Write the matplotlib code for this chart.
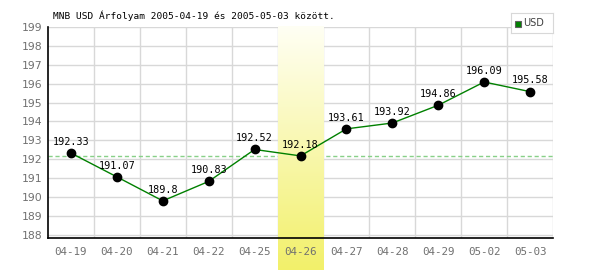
import matplotlib
matplotlib.use("Agg")
import matplotlib.pyplot as plt
import numpy as np
from matplotlib.colors import LinearSegmentedColormap
from matplotlib.patches import Rectangle

dates = ["04-19", "04-20", "04-21", "04-22", "04-25", "04-26", "04-27", "04-28", "04-29", "05-02", "05-03"]
values = [192.33, 191.07, 189.8, 190.83, 192.52, 192.18, 193.61, 193.92, 194.86, 196.09, 195.58]
value_labels = ["192.33", "191.07", "189.8", "190.83", "192.52", "192.18", "193.61", "193.92", "194.86", "196.09", "195.58"]
highlight_idx = 5
ref_value = 192.18
yticks = list(range(188, 200))
title = "MNB USD Árfolyam 2005-04-19 és 2005-05-03 között."
series_name = "USD"

plt.rcParams['font.family'] = ['DejaVu Sans Mono', 'DejaVu Sans']

fig = plt.figure(figsize=(6.0, 2.7), dpi=100)
ax = fig.add_axes([48/600, (270-238.3)/270, (553-48)/600, (238.3-27)/270])

ymin, ymax = 187.82, 199.0
x = np.arange(len(dates))
ax.set_xlim(-0.5, len(dates) - 0.5)
ax.set_ylim(ymin, ymax)

# grid
for k in range(len(dates)):
    ax.axvline(k + 0.5, color="#d8d8d8", lw=1, zorder=0)
for yv in yticks:
    ax.axhline(yv, color="#d8d8d8", lw=1, zorder=0)

# reference dashed line
ax.axhline(ref_value, color="#88d088", lw=1, ls=(0, (3, 2)), zorder=1)

# highlight gradient column (extends below axis)
cmap = LinearSegmentedColormap.from_list("hl", ["#fffff4", "#f2f06a"])
grad = np.linspace(0, 1, 256).reshape(-1, 1)
bottom_data = ymin - (ymax - ymin) * (270 - 238.3) / (238.3 - 27)
top_data = ymax + (ymax - ymin) * 1 / (238.3 - 27)
ax.imshow(grad, cmap=cmap, aspect="auto", origin="upper",
          extent=[highlight_idx - 0.5, highlight_idx + 0.5, bottom_data, top_data],
          zorder=1.5, clip_on=False)

ax.plot(x, values, color="#008000", lw=1, zorder=3)
ax.plot(x, values, 'o', color="black", ms=6, zorder=4)
for xi, v, lab in zip(x, values, value_labels):
    ax.annotate(lab, (xi, v), xytext=(0, 4.5), textcoords="offset points",
                ha="center", va="bottom", fontsize=7.3, color="black", zorder=5)

for s in ["top", "right"]:
    ax.spines[s].set_visible(False)
for s in ["left", "bottom"]:
    ax.spines[s].set_color("black")
    ax.spines[s].set_linewidth(1.2)
    ax.spines[s].set_zorder(6)

ax.set_xticks(x)
ax.set_xticklabels(dates)
ax.set_yticks(yticks)
ax.set_yticklabels([str(t) for t in yticks])
ax.tick_params(axis="both", length=0, labelsize=7.8, colors="#707070")
ax.tick_params(axis="x", pad=6)
ax.tick_params(axis="y", pad=4)
for lab in ax.get_yticklabels():
    lab.set_family(["DejaVu Sans"])

fig.text(53/600, 1 - 16/270, title, fontsize=6.8, color="black", ha="left", va="center")

# legend
leg = fig.add_axes([511/600, 1 - 33/270, 42/600, 20/270])
leg.set_xticks([]); leg.set_yticks([])
for s in leg.spines.values():
    s.set_color("#d8d8d8")
leg.set_xlim(0, 42); leg.set_ylim(0, 20)
leg.add_patch(Rectangle((4, 6.5), 6, 6, facecolor="#008000", edgecolor="#606060", lw=0.8))
leg.text(12.5, 9.5, series_name, fontsize=7, color="#404040", va="center", ha="left",
         family=["DejaVu Sans"])

fig.savefig("out.png", dpi=100)
